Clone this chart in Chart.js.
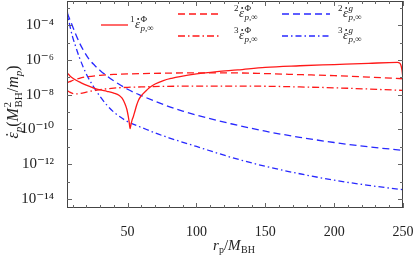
<!DOCTYPE html>
<html>
<head>
<meta charset="utf-8">
<script src="https://cdn.jsdelivr.net/npm/chart.js@4"></script>
<style>
  html, body { margin: 0; padding: 0; background: #fff; }
  #wrap { position: relative; width: 415px; height: 261px; }
</style>
</head>
<body>
<div id="wrap"><canvas id="fluxChart"></canvas></div>
<script>
// r_p / M_BH sample points and log10 of each flux
const phi1R = [6, 8, 10, 13, 16, 20, 25, 30, 35, 40, 44, 46, 48, 49.5, 50.5, 51.2, 51.8, 52.5, 53.3, 54.2, 55.3, 56.5, 58, 60, 63, 66, 70, 76, 82, 88, 100, 115, 130, 150, 175, 200, 225, 246, 247.5, 248.5, 249.3, 250];
const phi1Log = [-6.74, -6.9, -7.03, -7.18, -7.3, -7.45, -7.6, -7.72, -7.8, -7.9, -8.04, -8.2, -8.5, -8.85, -9.25, -9.6, -9.95, -9.7, -9.45, -9.25, -8.95, -8.62, -8.3, -8.05, -7.8, -7.58, -7.38, -7.18, -7.05, -6.95, -6.8, -6.67, -6.57, -6.42, -6.33, -6.26, -6.19, -6.14, -6.17, -6.3, -6.6, -7.09];

const phi2R = [6, 8, 10, 15, 20, 30, 40, 50, 75, 100, 125, 150, 175, 200, 225, 250];
const phi2Log = [-7.3, -7.25, -7.18, -7.05, -6.97, -6.88, -6.83, -6.8, -6.76, -6.74, -6.74, -6.78, -6.84, -6.9, -6.98, -7.08];

const phi3R = [6, 8, 10, 13, 16, 20, 25, 30, 40, 50, 60, 75, 100, 125, 150, 175, 200, 225, 250];
const phi3Log = [-7.75, -7.85, -7.92, -7.95, -7.92, -7.85, -7.76, -7.7, -7.62, -7.57, -7.55, -7.52, -7.5, -7.5, -7.51, -7.55, -7.6, -7.67, -7.75];

const g2R = [6, 8, 10, 12, 15, 18, 22, 26, 30, 35, 40, 45, 50, 55, 60, 70, 80, 90, 100, 125, 150, 175, 200, 225, 250];
const g2Log = [-3.3, -3.65, -4.05, -4.45, -5.0, -5.45, -5.95, -6.3, -6.6, -6.92, -7.2, -7.45, -7.68, -7.88, -8.05, -8.38, -8.68, -8.94, -9.17, -9.67, -10.1, -10.45, -10.75, -11.0, -11.2];

const g3R = [6, 7, 8, 10, 12, 15, 20, 25, 30, 35, 40, 45, 50, 55, 60, 70, 80, 100, 125, 150, 175, 200, 225, 250];
const g3Log = [-3.09, -3.6, -4.0, -4.65, -5.15, -5.85, -6.8, -7.5, -8.1, -8.6, -9.0, -9.3, -9.55, -9.72, -9.88, -10.2, -10.48, -10.98, -11.6, -12.12, -12.55, -12.92, -13.22, -13.47];

const xTicks = [50, 100, 150, 200, 250];
const xMinorTicks = [10, 20, 30, 40, 60, 70, 80, 90, 110, 120, 130, 140, 160, 170, 180, 190, 210, 220, 230, 240];
const yDecades = [-14, -13, -12, -11, -10, -9, -8, -7, -6, -5, -4, -3];

const RED = "rgb(255,25,25)";
const BLUE = "rgb(40,40,255)";
const SERIF = "'Liberation Serif', 'DejaVu Serif', serif";

const sup = { "-": "\u207B", "0": "\u2070", "1": "\u00B9", "2": "\u00B2", "3": "\u00B3", "4": "\u2074", "5": "\u2075", "6": "\u2076", "7": "\u2077", "8": "\u2078", "9": "\u2079" };
const toSup = s => String(s).split("").map(c => sup[c] || c).join("");

function pts(rs, logs) {
  return rs.map((r, i) => ({ x: r, y: Math.pow(10, logs[i]) }));
}

// draw a row of text pieces (sub/superscripts), returns width
function pieces(ctx, list, x, y, draw) {
  let cx = x, held = 0;
  ctx.textAlign = "left";
  ctx.textBaseline = "alphabetic";
  list.forEach(p => {
    ctx.font = p.f;
    const w = ctx.measureText(p.t).width;
    if (draw) {
      ctx.fillText(p.t, cx, y + (p.dy || 0));
      if (p.dot) {
        ctx.beginPath();
        ctx.arc(cx + w * 0.62, y + (p.dy || 0) - p.dot, 0.9, 0, Math.PI * 2);
        ctx.fill();
      }
    }
    if (p.stay) { held = w; return; }
    cx += Math.max(w, held) + (p.gap || 0);
    held = 0;
  });
  return cx - x;
}

function epsLabel(pre, top) {
  return [
    { t: pre, f: "9px " + SERIF, dy: -6, gap: 0.5 },
    { t: "\u03B5", f: "italic 13px " + SERIF, dot: 9, gap: 0.5 },
    { t: top, f: (top === "g" ? "italic " : "") + "9px " + SERIF, dy: -6, stay: true },
    { t: "p,\u221E", f: "italic 9px " + SERIF, dy: 3 }
  ];
}

const legendItems = [
  { ds: 0, x0: 101, x1: 128, y: 25, text: epsLabel("1", "\u03A6"), tx: 130 },
  { ds: 1, x0: 178, x1: 221, y: 14, text: epsLabel("2", "\u03A6"), tx: 234 },
  { ds: 2, x0: 178, x1: 221, y: 36, text: epsLabel("3", "\u03A6"), tx: 234 },
  { ds: 3, x0: 282, x1: 330, y: 14, text: epsLabel("2", "g"), tx: 338 },
  { ds: 4, x0: 282, x1: 330, y: 36, text: epsLabel("3", "g"), tx: 338 }
];

const framePlugin = {
  id: "framePlugin",
  afterDraw(chart) {
    const ctx = chart.ctx;
    const a = chart.chartArea;
    const xs = chart.scales.x, ys = chart.scales.y;
    ctx.save();
    ctx.strokeStyle = "#444";
    ctx.lineWidth = 1;
    ctx.strokeRect(a.left + 0.5, a.top + 0.5, a.right - a.left - 1, a.bottom - a.top - 1);

    // inward ticks on all four sides
    ctx.strokeStyle = "#666";
    ctx.beginPath();
    const xt = (v, len) => {
      const px = Math.round(xs.getPixelForValue(v)) + 0.5;
      ctx.moveTo(px, a.bottom); ctx.lineTo(px, a.bottom - len);
      ctx.moveTo(px, a.top); ctx.lineTo(px, a.top + len);
    };
    xTicks.forEach(v => xt(v, 5));
    xMinorTicks.forEach(v => xt(v, 3));
    yDecades.forEach(e => {
      const py = Math.round(ys.getPixelForValue(Math.pow(10, e))) + 0.5;
      const len = e % 2 === 0 ? 5 : 3;
      ctx.moveTo(a.left, py); ctx.lineTo(a.left + len, py);
      ctx.moveTo(a.right, py); ctx.lineTo(a.right - len, py);
    });
    ctx.stroke();

    // legend
    legendItems.forEach(it => {
      const ds = chart.data.datasets[it.ds];
      ctx.strokeStyle = ds.borderColor;
      ctx.lineWidth = ds.borderWidth;
      ctx.setLineDash(ds.borderDash || []);
      ctx.beginPath();
      ctx.moveTo(it.x0, it.y); ctx.lineTo(it.x1, it.y);
      ctx.stroke();
      ctx.setLineDash([]);
      ctx.fillStyle = "#222";
      pieces(ctx, it.text, it.tx, it.y + 3, true);
    });

    // x axis title
    ctx.fillStyle = "#222";
    const xt1 = [
      { t: "r", f: "italic 15px " + SERIF },
      { t: "p", f: "10px " + SERIF, dy: 3 },
      { t: "/", f: "15px " + SERIF },
      { t: "M", f: "italic 15px " + SERIF, gap: 0.5 },
      { t: "BH", f: "10px " + SERIF, dy: 3 }
    ];
    const wx = pieces(ctx, xt1, 0, 0, false);
    pieces(ctx, xt1, 234 - wx / 2, 250, true);

    // y axis title
    const yt = [
      { t: "\u03B5", f: "italic 16px " + SERIF, dot: 11 },
      { t: "p", f: "italic 11px " + SERIF, dy: 4 },
      { t: "(", f: "16px " + SERIF },
      { t: "M", f: "italic 16px " + SERIF, gap: 0.5 },
      { t: "2", f: "11px " + SERIF, dy: -7, stay: true },
      { t: "BH", f: "11px " + SERIF, dy: 4 },
      { t: "/", f: "16px " + SERIF },
      { t: "m", f: "italic 16px " + SERIF },
      { t: "p", f: "italic 11px " + SERIF, dy: 4 },
      { t: ")", f: "16px " + SERIF }
    ];
    const wy = pieces(ctx, yt, 0, 0, false);
    ctx.translate(18, 102);
    ctx.rotate(-Math.PI / 2);
    pieces(ctx, yt, -wy / 2, 0, true);
    ctx.restore();
  }
};

new Chart(document.getElementById("fluxChart"), {
  type: "line",
  data: {
    datasets: [
      { data: pts(phi1R, phi1Log), borderColor: RED, borderWidth: 1.3 },
      { data: pts(phi2R, phi2Log), borderColor: RED, borderWidth: 1.3, borderDash: [7, 4] },
      { data: pts(phi3R, phi3Log), borderColor: RED, borderWidth: 1.3, borderDash: [7, 3, 1.5, 3] },
      { data: pts(g2R, g2Log), borderColor: BLUE, borderWidth: 1.3, borderDash: [7, 4] },
      { data: pts(g3R, g3Log), borderColor: BLUE, borderWidth: 1.3, borderDash: [6, 3, 1.5, 3] }
    ].map(d => Object.assign(d, { fill: false, pointRadius: 0, cubicInterpolationMode: "monotone" }))
  },
  options: {
    responsive: true,
    maintainAspectRatio: false,
    animation: false,
    layout: { padding: { top: 1, right: 12, left: 0, bottom: 0 } },
    plugins: { legend: { display: false }, tooltip: { enabled: false } },
    scales: {
      x: {
        type: "linear",
        min: 6,
        max: 250,
        grid: { display: false },
        border: { display: false },
        afterBuildTicks: s => { s.ticks = xTicks.map(v => ({ value: v })); },
        afterFit: s => { s.height = 53; s.paddingLeft = 0; s.paddingRight = 0; },
        ticks: { autoSkip: false, maxRotation: 0, padding: 8, color: "#222", font: { family: SERIF, size: 14 } }
      },
      y: {
        type: "logarithmic",
        min: Math.pow(10, -14.5),
        max: Math.pow(10, -2.6),
        grid: { display: false },
        border: { display: false },
        afterBuildTicks: s => { s.ticks = yDecades.map(e => ({ value: Math.pow(10, e) })); },
        afterFit: s => { s.width = 67; s.paddingTop = 0; s.paddingBottom = 0; },
        ticks: {
          autoSkip: false,
          padding: 5,
          color: "#222",
          font: { family: SERIF, size: 15 },
          callback: v => {
            const e = Math.round(Math.log10(v));
            return e % 2 === 0 ? "10" + toSup(e) : "";
          }
        }
      }
    }
  },
  plugins: [framePlugin]
});
</script>
</body>
</html>
